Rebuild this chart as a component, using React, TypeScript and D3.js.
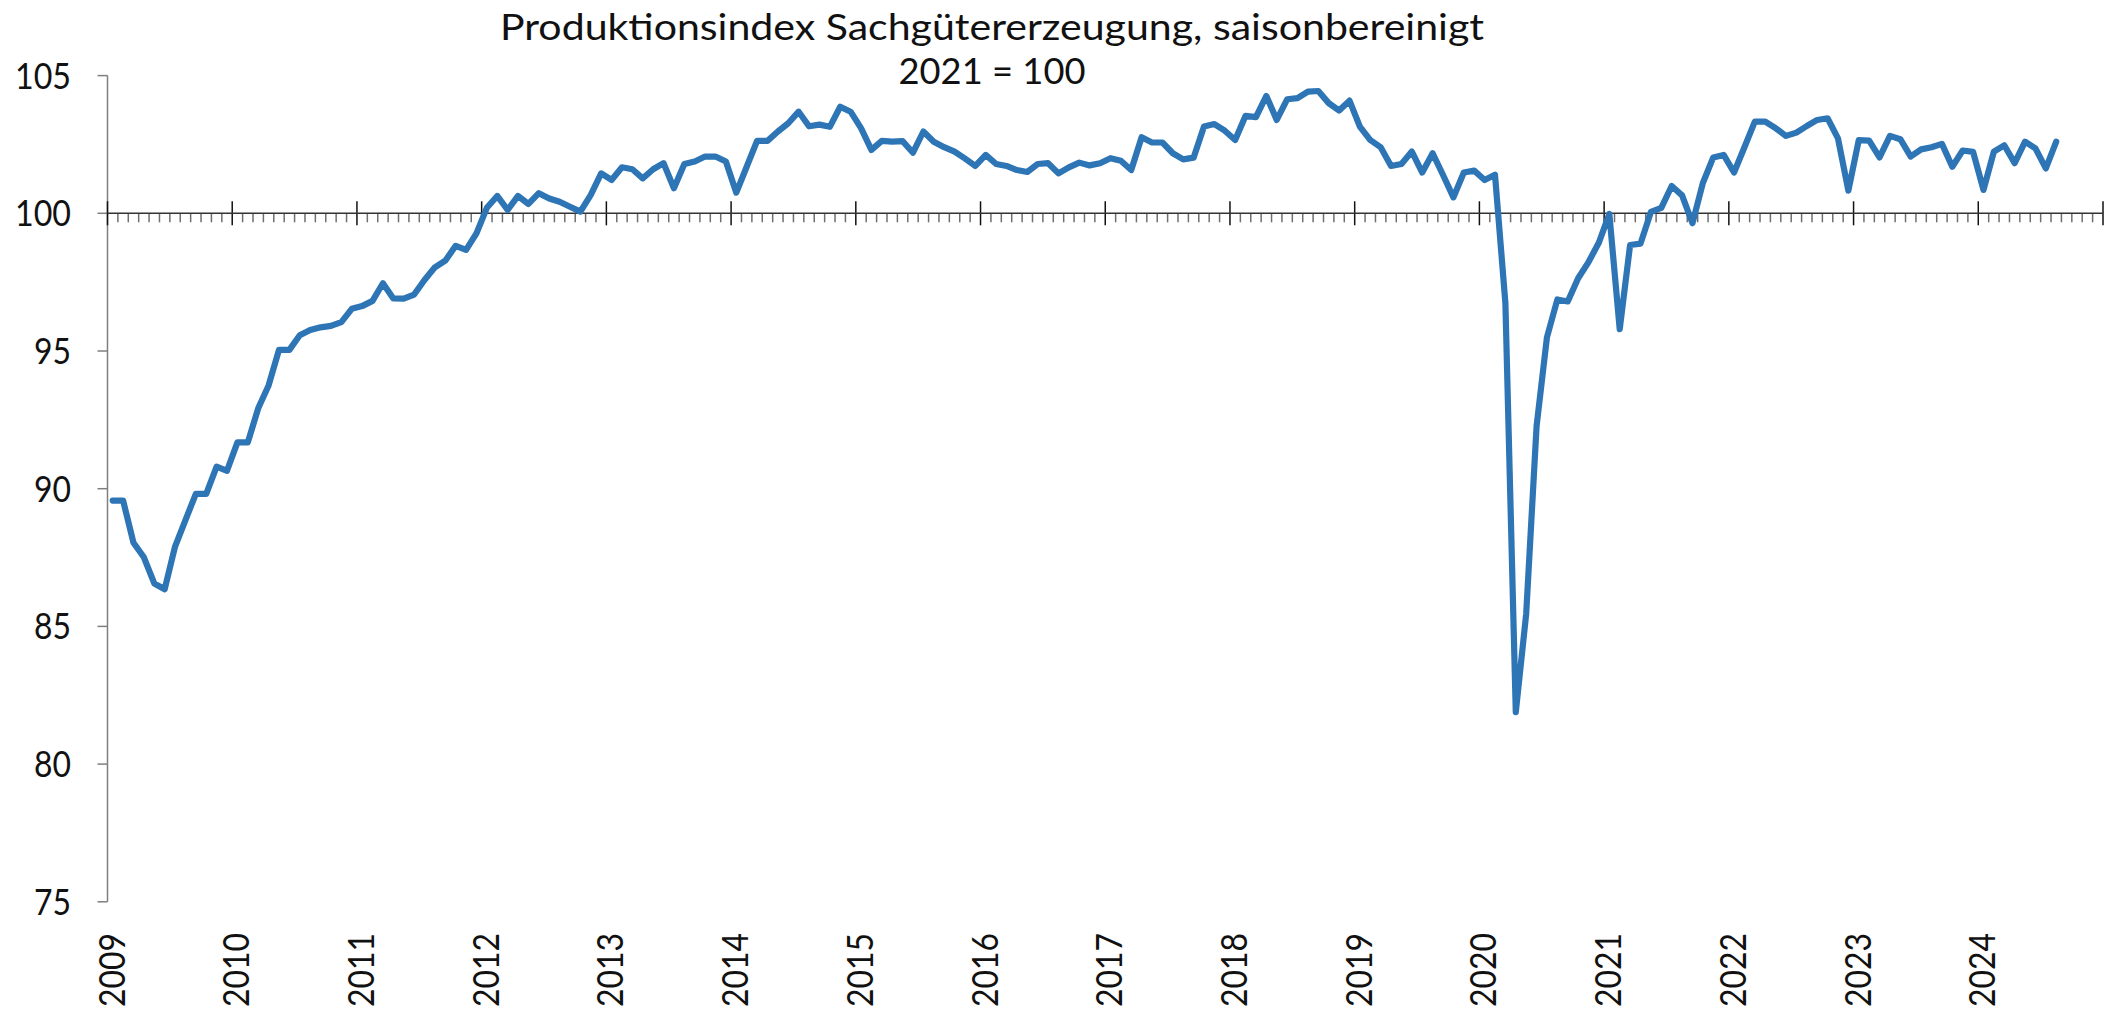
import React, { useEffect } from "react";
import * as d3 from "d3";

const titleLine1 = "Produktionsindex Sachgütererzeugung, saisonbereinigt";
const titleLine2 = "2021 = 100";

const startYear = 2009;
const endYear = 2025;
const yTickValues = [75, 80, 85, 90, 95, 100, 105];
const yearLabels = d3.range(2009, 2025).map(String);

const v2009 = [89.57, 89.57, 88.04, 87.51, 86.56, 86.35, 87.9, 88.86, 89.81, 89.81, 90.8, 90.65];
const v2010 = [91.68, 91.68, 92.92, 93.75, 95.04, 95.04, 95.57, 95.76, 95.86, 95.91, 96.05, 96.53];
const v2011 = [96.63, 96.82, 97.46, 96.91, 96.9, 97.05, 97.58, 98.04, 98.28, 98.82, 98.67, 99.27];
const v2012 = [100.2, 100.63, 100.12, 100.63, 100.34, 100.73, 100.54, 100.42, 100.24, 100.06, 100.67, 101.45];
const v2013 = [101.21, 101.67, 101.6, 101.27, 101.6, 101.82, 100.91, 101.79, 101.88, 102.06, 102.06, 101.88];
const v2014 = [100.75, 101.69, 102.63, 102.63, 102.97, 103.27, 103.69, 103.16, 103.22, 103.14, 103.87, 103.69];
const v2015 = [103.09, 102.3, 102.63, 102.6, 102.62, 102.2, 102.97, 102.6, 102.4, 102.24, 101.99, 101.72];
const v2016 = [102.12, 101.79, 101.72, 101.57, 101.5, 101.79, 101.82, 101.45, 101.67, 101.84, 101.74, 101.82];
const v2017 = [102.0, 101.91, 101.57, 102.76, 102.57, 102.57, 102.18, 101.96, 102.02, 103.15, 103.24, 103.0];
const v2018 = [102.66, 103.54, 103.49, 104.26, 103.39, 104.14, 104.18, 104.42, 104.44, 104.0, 103.73, 104.09];
const v2019 = [103.15, 102.66, 102.4, 101.72, 101.79, 102.24, 101.48, 102.18, 101.39, 100.58, 101.48, 101.55];
const v2020 = [101.21, 101.4, 96.74, 81.89, 85.45, 92.26, 95.5, 96.87, 96.8, 97.64, 98.23, 98.94];
const v2021 = [99.98, 95.79, 98.85, 98.9, 100.05, 100.2, 100.99, 100.65, 99.64, 101.1, 102.03, 102.12];
const v2022 = [101.48, 102.4, 103.33, 103.33, 103.09, 102.81, 102.93, 103.17, 103.39, 103.45, 102.72, 100.82];
const v2023 = [102.66, 102.64, 102.03, 102.81, 102.69, 102.06, 102.32, 102.4, 102.52, 101.69, 102.28, 102.23];
const v2024 = [100.85, 102.24, 102.47, 101.82, 102.6, 102.36, 101.63, 102.6];

const series = [
  v2009, v2010, v2011, v2012, v2013, v2014, v2015, v2016,
  v2017, v2018, v2019, v2020, v2021, v2022, v2023, v2024,
];

export default function App() {
  useEffect(() => {
    document.body.style.margin = "0";
    document.body.style.overflow = "hidden";
  }, []);

  const W = 2112;
  const H = 1012;
  const x = d3.scaleLinear().domain([startYear, endYear]).range([107.5, 2103]);
  const y = d3.scaleLinear().domain([75, 105]).range([901.8, 75.6]);

  const points: { t: number; v: number }[] = [];
  series.forEach((arr, yi) => {
    arr.forEach((v, m) => {
      points.push({ t: startYear + yi + (m + 0.5) / 12, v });
    });
  });

  const line = d3
    .line<{ t: number; v: number }>()
    .x((d) => x(d.t))
    .y((d) => y(d.v));

  const y100 = y(100);
  const months = d3.range(0, (endYear - startYear) * 12 + 1).map((k) => startYear + k / 12);
  const font = "Lato, 'DejaVu Sans', sans-serif";

  return (
    <svg
      width={W}
      height={H}
      viewBox={`0 0 ${W} ${H}`}
      style={{ position: "absolute", left: 0, top: 0, background: "#fff" }}
    >
      <rect x={0} y={0} width={W} height={H} fill="#fff" />
      {/* title */}
      <text
        x={992}
        y={39.5}
        textAnchor="middle"
        fontFamily={font}
        fontSize={36}
        fill="#111"
        textLength={984}
        lengthAdjust="spacingAndGlyphs"
      >
        {titleLine1}
      </text>
      <text
        x={992}
        y={84}
        textAnchor="middle"
        fontFamily={font}
        fontSize={36}
        fill="#111"
        textLength={187}
        lengthAdjust="spacingAndGlyphs"
      >
        {titleLine2}
      </text>

      {/* y axis */}
      <line x1={x(startYear)} x2={x(startYear)} y1={y(105)} y2={y(75)} stroke="#7f7f7f" strokeWidth={1.5} />
      {yTickValues.map((v) => (
        <g key={v}>
          <line x1={x(startYear) - 10} x2={x(startYear)} y1={y(v)} y2={y(v)} stroke="#7f7f7f" strokeWidth={1.5} />
          <text
            x={71}
            y={y(v) + 13}
            textAnchor="end"
            fontFamily={font}
            fontSize={37}
            fill="#111"
            textLength={String(v).length === 3 ? 56 : 37}
            lengthAdjust="spacingAndGlyphs"
          >
            {v}
          </text>
        </g>
      ))}

      {/* x axis at 100 */}
      {months.map((t, k) =>
        k % 12 === 0 ? null : (
          <line key={k} x1={x(t)} x2={x(t)} y1={y100} y2={y100 + 9} stroke="#6f6f6f" strokeWidth={1.5} />
        )
      )}
      {months.map((t, k) =>
        k % 12 === 0 ? (
          <line key={"M" + k} x1={x(t)} x2={x(t)} y1={y100 - 12} y2={y100 + 12} stroke="#111" strokeWidth={1.5} />
        ) : null
      )}
      <line x1={x(startYear)} x2={x(endYear)} y1={y100} y2={y100} stroke="#333" strokeWidth={1.5} />

      {/* year labels */}
      {yearLabels.map((lab, i) => {
        const xp = x(startYear + i) + 17;
        return (
          <text
            key={lab}
            transform={`translate(${xp},933) rotate(-90)`}
            textAnchor="end"
            fontFamily={font}
            fontSize={37}
            fill="#111"
            textLength={74}
            lengthAdjust="spacingAndGlyphs"
          >
            {lab}
          </text>
        );
      })}

      {/* data line */}
      <path
        d={line(points) || ""}
        fill="none"
        stroke="#2E75B6"
        strokeWidth={6.2}
        strokeLinejoin="round"
        strokeLinecap="round"
      />
    </svg>
  );
}
